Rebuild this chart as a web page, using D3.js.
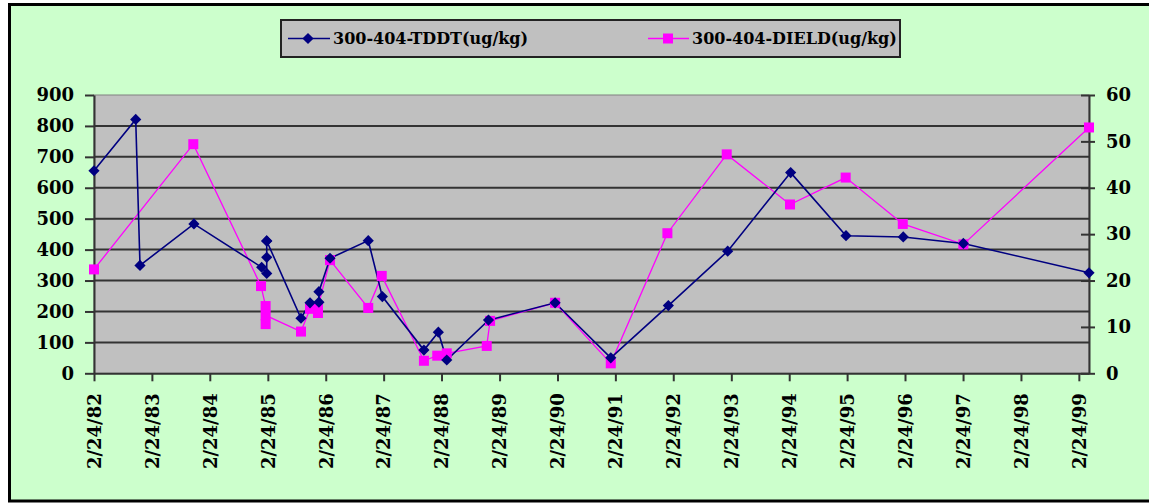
<!DOCTYPE html>
<html>
<head>
<meta charset="utf-8">
<script src="https://cdn.jsdelivr.net/npm/d3@7"></script>
<style>
  html, body { margin: 0; padding: 0; background: #ffffff; }
  svg { display: block; }
  text { font-family: "DejaVu Serif", serif; font-weight: bold; fill: #000; }
</style>
</head>
<body>
<svg id="chart" width="1149" height="503"></svg>
<script>
// ---- data ----
const seriesNames = ["300-404-TDDT(ug/kg)", "300-404-DIELD(ug/kg)"];

const tddtDates = ["1982-02-24","1982-11-14","1982-12-11","1983-11-16",
  "1985-01-16","1985-02-17","1985-02-17","1985-02-17","1985-02-17",
  "1985-09-21","1985-11-17","1986-01-12","1986-01-12","1986-03-23",
  "1986-11-19","1987-02-16","1987-11-05","1988-02-04","1988-03-28",
  "1988-12-16","1990-02-09","1991-01-26","1992-01-24","1993-02-01",
  "1994-03-05","1995-02-17","1996-02-13","1997-02-26","1999-04-29"];
const tddtValues = [655, 821, 349, 483,
  343, 323, 375, 428, 428,
  178, 228, 230, 264, 372,
  429, 248, 75, 133, 43,
  172, 228, 50, 219, 395,
  649, 445, 441, 420, 325];

const dieldDates = ["1982-02-24","1983-11-12","1985-01-12","1985-02-10",
  "1985-02-10","1985-02-10","1985-09-21","1985-11-17","1986-01-06",
  "1986-01-06","1986-03-23","1986-11-19","1987-02-12","1987-11-05",
  "1988-01-28","1988-03-28","1988-12-05","1988-12-26","1990-02-09",
  "1991-01-26","1992-01-18","1993-01-26","1994-03-01","1995-02-15",
  "1996-02-10","1997-02-26","1999-04-29"];
const dieldValues = [22.4, 49.4, 18.8, 14.5,
  10.6, 12.5, 9.0, 13.9, 13.0,
  14.3, 24.4, 14.1, 21.0, 2.7,
  3.8, 4.3, 5.9, 11.3, 15.2,
  2.15, 30.2, 47.2, 36.4, 42.2,
  32.2, 27.8, 53.0];

const xTickYears = [1982,1983,1984,1985,1986,1987,1988,1989,1990,1991,1992,1993,1994,1995,1996,1997,1998,1999];
const leftTicks = [0,100,200,300,400,500,600,700,800,900];
const rightTicks = [0,10,20,30,40,50,60];

// ---- layout ----
const svg = d3.select("#chart");
const parse = d3.timeParse("%Y-%m-%d");
const L = 94, R = 1089, T = 95, B = 373.3;

const x = d3.scaleTime().domain([new Date(1982,1,24), new Date(1999,3,29)]).range([L, R]);
const yL = d3.scaleLinear().domain([0, 900]).range([B, T]);
const yR = d3.scaleLinear().domain([0, 60]).range([B, T]);

// background and frame
svg.append("rect").attr("x", 9.5).attr("y", 4.5).attr("width", 1160).attr("height", 496.5)
  .attr("fill", "#ccffcc").attr("stroke", "#000").attr("stroke-width", 3);

// plot area
svg.append("rect").attr("x", L).attr("y", T).attr("width", R - L).attr("height", B - T)
  .attr("fill", "#c0c0c0").attr("stroke", "#808080").attr("stroke-width", 1);

// gridlines
svg.append("g").selectAll("line").data(leftTicks.filter(d => d > 0 && d < 900)).join("line")
  .attr("x1", L).attr("x2", R).attr("y1", d => yL(d)).attr("y2", d => yL(d))
  .attr("stroke", "#333").attr("stroke-width", 2);

// left axis
const gL = svg.append("g").attr("transform", `translate(${L},0)`)
  .call(d3.axisLeft(yL).tickValues(leftTicks).tickSize(9).tickPadding(11).tickSizeOuter(0));
gL.select(".domain").attr("stroke", "#333").attr("stroke-width", 2);
gL.selectAll(".tick line").attr("stroke", "#333").attr("stroke-width", 2);
gL.selectAll("text").attr("font-size", 18).attr("font-family", "DejaVu Serif").attr("font-weight", "bold").attr("fill", "#000");

// right axis
const gR = svg.append("g").attr("transform", `translate(${R},0)`)
  .call(d3.axisRight(yR).tickValues(rightTicks).tickSize(6).tickPadding(11).tickSizeOuter(0));
gR.select(".domain").attr("stroke", "#333").attr("stroke-width", 2);
gR.selectAll(".tick line").attr("stroke", "#333").attr("stroke-width", 2).attr("x1", -8);
gR.selectAll("text").attr("font-size", 18).attr("font-family", "DejaVu Serif").attr("font-weight", "bold").attr("fill", "#000");

// bottom axis
const xTicks = xTickYears.map(yv => new Date(yv, 1, 24));
const gB = svg.append("g").attr("transform", `translate(0,${B})`)
  .call(d3.axisBottom(x).tickValues(xTicks).tickFormat(d3.timeFormat("%-m/%-d/%y")).tickSize(8).tickSizeOuter(0));
gB.select(".domain").attr("stroke", "#333").attr("stroke-width", 2);
gB.selectAll(".tick line").attr("stroke", "#333").attr("stroke-width", 2);
gB.selectAll("text")
  .attr("font-size", 18).attr("font-family", "DejaVu Serif").attr("font-weight", "bold").attr("fill", "#000")
  .attr("transform", "rotate(-90)")
  .attr("text-anchor", "end")
  .attr("x", -20).attr("y", 0).attr("dy", "0.35em");

// series
const tddt = tddtDates.map((d, i) => ({ date: parse(d), v: tddtValues[i] }));
const dield = dieldDates.map((d, i) => ({ date: parse(d), v: dieldValues[i] }));

svg.append("path").datum(dield)
  .attr("fill", "none").attr("stroke", "#ff00ff").attr("stroke-width", 1.3)
  .attr("d", d3.line().x(d => x(d.date)).y(d => yR(d.v)));

svg.append("path").datum(tddt)
  .attr("fill", "none").attr("stroke", "#000080").attr("stroke-width", 1.6)
  .attr("d", d3.line().x(d => x(d.date)).y(d => yL(d.v)));

svg.append("g").selectAll("rect").data(dield).join("rect")
  .attr("x", d => x(d.date) - 5).attr("y", d => yR(d.v) - 5)
  .attr("width", 10).attr("height", 10).attr("fill", "#ff00ff");

const diamond = d3.symbol().type(d3.symbolDiamond2).size(80);
svg.append("g").selectAll("path").data(tddt).join("path")
  .attr("transform", d => `translate(${x(d.date)},${yL(d.v)})`)
  .attr("d", diamond).attr("fill", "#000080");

// legend
const lg = svg.append("g");
lg.append("rect").attr("x", 281).attr("y", 20).attr("width", 619).attr("height", 37)
  .attr("fill", "#c0c0c0").attr("stroke", "#222").attr("stroke-width", 2);
lg.append("line").attr("x1", 288).attr("x2", 330).attr("y1", 38.5).attr("y2", 38.5)
  .attr("stroke", "#000080").attr("stroke-width", 1.6);
lg.append("path").attr("transform", "translate(308,38.5)").attr("d", diamond).attr("fill", "#000080");
lg.append("text").attr("x", 333).attr("y", 38.5).attr("dy", "0.35em").attr("font-size", 16).text(seriesNames[0]);
lg.append("line").attr("x1", 648).attr("x2", 689).attr("y1", 38.5).attr("y2", 38.5)
  .attr("stroke", "#ff00ff").attr("stroke-width", 1.3);
lg.append("rect").attr("x", 663).attr("y", 33.5).attr("width", 10).attr("height", 10).attr("fill", "#ff00ff");
lg.append("text").attr("x", 692).attr("y", 38.5).attr("dy", "0.35em").attr("font-size", 16).text(seriesNames[1]);
</script>
</body>
</html>
